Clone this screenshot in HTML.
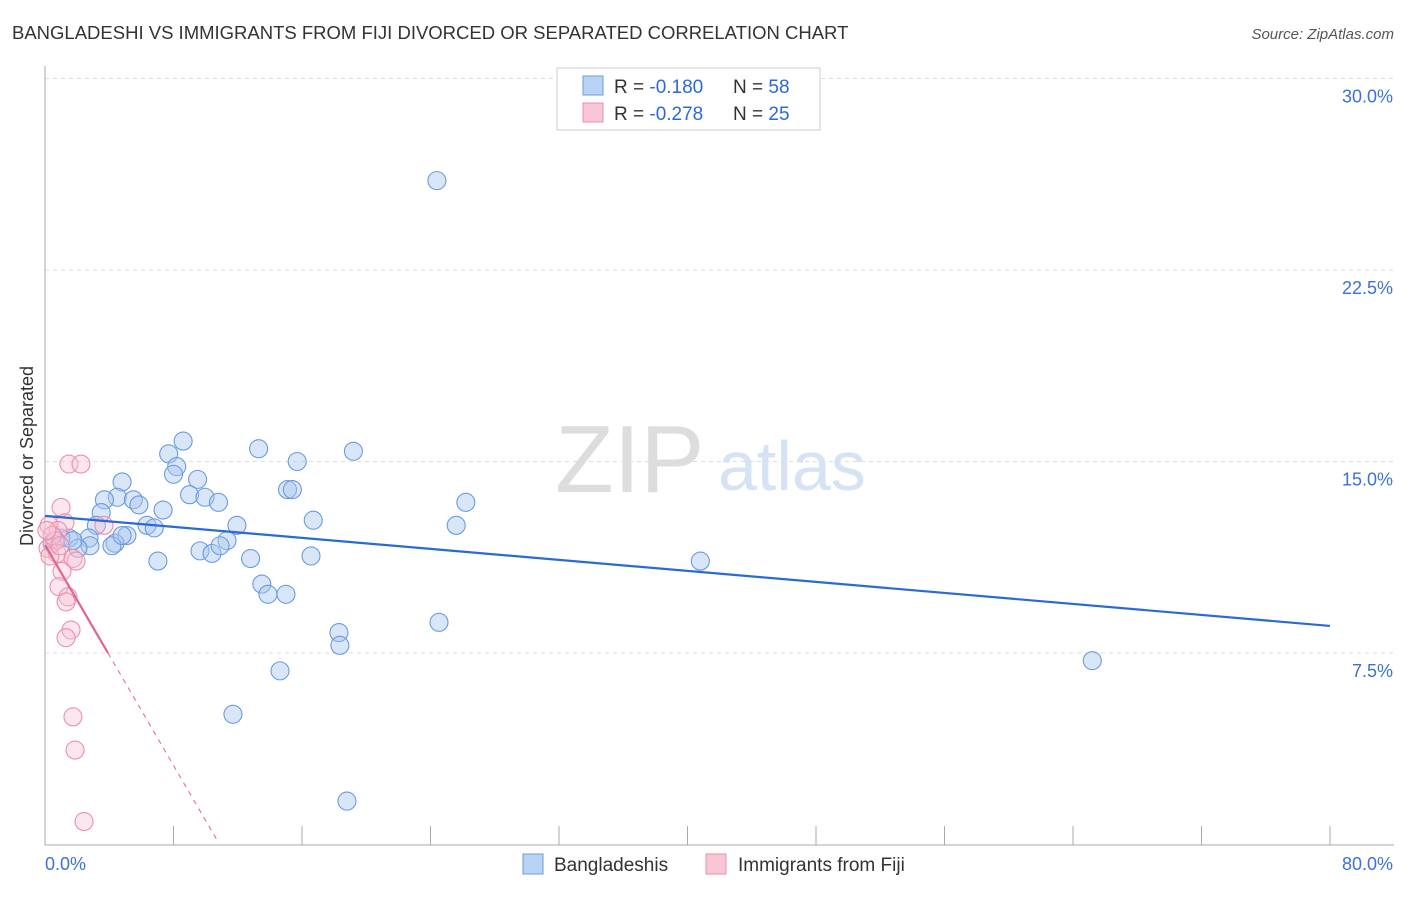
<!DOCTYPE html>
<html><head><meta charset="utf-8"><style>
body{margin:0;background:#fff;font-family:"Liberation Sans",sans-serif;}
svg text{font-family:"Liberation Sans",sans-serif;}
</style></head><body>
<svg id="c" width="1406" height="892">
<text x="12" y="39" font-size="18.5" fill="#333">BANGLADESHI VS IMMIGRANTS FROM FIJI DIVORCED OR SEPARATED CORRELATION CHART</text>
<text x="1394" y="39" font-size="15" fill="#555" text-anchor="end" font-style="italic">Source: ZipAtlas.com</text>
<text transform="translate(33,456) rotate(-90)" font-size="18" fill="#333" text-anchor="middle">Divorced or Separated</text>
<text x="555" y="492" font-size="96" fill="#ddd" font-family="Liberation Serif">ZIP</text>
<text x="718" y="490" font-size="70" fill="#d5e3f5">atlas</text>
<g id="grid"></g><g id="pts"></g><g id="lines"></g>
<g>
<rect x="557" y="68" width="263" height="62" fill="#fff" stroke="#ccc"/>
<rect x="583" y="76" width="20" height="19" fill="#b9d3f5" stroke="#6c9be0"/>
<rect x="583" y="103" width="20" height="19" fill="#f9c6d5" stroke="#ec8fab"/>
<text x="614" y="93" font-size="19" fill="#333">R = <tspan fill="#2a6ad8">-0.180</tspan></text>
<text x="733" y="93" font-size="19" fill="#333">N = <tspan fill="#2a6ad8">58</tspan></text>
<text x="614" y="120" font-size="19" fill="#333">R = <tspan fill="#2a6ad8">-0.278</tspan></text>
<text x="733" y="120" font-size="19" fill="#333">N = <tspan fill="#2a6ad8">25</tspan></text>
</g>
<g>
<rect x="523" y="854" width="20" height="20" fill="#b9d3f5" stroke="#6c9be0"/>
<text x="554" y="871" font-size="19" fill="#333">Bangladeshis</text>
<rect x="706" y="854" width="20" height="20" fill="#f9c6d5" stroke="#ec8fab"/>
<text x="738" y="871" font-size="19" fill="#333">Immigrants from Fiji</text>
</g>
</svg>
<script>
const yTicks=[7.5,15,22.5,30];
const yTickLabels=["7.5%","15.0%","22.5%","30.0%"];
const xTicks=[0,8,16,24,32,40,48,56,64,72,80];
const blueX=[24.4,8.6,13.3,19.2,7.7,15.7,8.2,8.0,9.5,4.8,15.1,15.4,9.0,4.5,9.96,3.7,5.5,10.8,26.2,5.85,3.5,7.35,16.7,3.2,6.35,6.8,11.95,25.6,5.1,2.74,1.49,0.99,11.33,0.44,4.36,2.8,4.17,2.05,9.65,10.4,10.9,16.56,12.8,7.03,40.8,13.5,13.88,15.0,18.3,24.53,18.36,65.2,14.63,11.7,18.8,0.68,1.74,4.8];
const blueY=[26.0,15.8,15.5,15.4,15.3,15.0,14.8,14.5,14.3,14.2,13.9,13.9,13.7,13.6,13.6,13.5,13.5,13.4,13.4,13.3,13.0,13.1,12.7,12.5,12.5,12.4,12.5,12.5,12.1,12.0,12.0,12.0,11.9,11.8,11.8,11.7,11.7,11.6,11.5,11.4,11.7,11.3,11.2,11.1,11.1,10.2,9.8,9.8,8.3,8.7,7.8,7.2,6.8,5.1,1.7,11.9,11.9,12.1];
const pinkX=[1.49,2.24,1.0,1.24,0.25,0.81,0.62,0.19,0.75,0.31,1.74,1.93,3.67,1.06,0.87,1.43,1.62,1.31,1.74,1.87,2.43,0.44,0.12,0.93,1.31];
const pinkY=[14.9,14.9,13.2,12.6,12.5,12.3,11.9,11.6,11.4,11.3,11.2,11.1,12.5,10.7,10.1,9.7,8.4,8.1,5.0,3.7,0.9,12.1,12.3,11.7,9.5];
const blueLine=[12.87,8.56];
const pinkLine=[11.73,-1.079];
const X=v=>45+v/80*1285, Y=v=>844.5-v/7.5*191.5;
const NS="http://www.w3.org/2000/svg";
function mk(t,a,p){const e=document.createElementNS(NS,t);for(const k in a)e.setAttribute(k,a[k]);p.appendChild(e);return e;}
const g=document.getElementById('grid');
yTicks.forEach((t,i)=>{
 const l=mk('line',{x1:45,y1:Y(t),x2:1394,y2:Y(t),stroke:'#ddd','stroke-dasharray':'4,4'},g);
 
 
 const tx=mk('text',{x:1393,y:Y(t)+24,'font-size':18,fill:'#3a72d8','text-anchor':'end'},g);
 tx.textContent=yTickLabels[i];
 
 
});
mk('line',{x1:45,y1:66,x2:45,y2:845,stroke:'#aaa'},g);
mk('line',{x1:45,y1:845,x2:1394,y2:845,stroke:'#aaa'},g);
xTicks.forEach(t=>{const l=mk('line',{x1:X(t),y1:826,x2:X(t),y2:845,stroke:'#aaa'},g);
 
 });
let t0=mk('text',{x:45,y:870,'font-size':18,fill:'#3a72d8'},g);t0.textContent='0.0%';


let t1=mk('text',{x:1393,y:870,'font-size':18,fill:'#3a72d8','text-anchor':'end'},g);t1.textContent='80.0%';


const p=document.getElementById('pts');
blueX.forEach((x,i)=>{const c=mk('circle',{cx:X(x),cy:Y(blueY[i]),r:9,fill:'rgba(170,200,240,0.45)',stroke:'#6a9ae0','stroke-width':1.1},p);
 
 });
pinkX.forEach((x,i)=>{const c=mk('circle',{cx:X(x),cy:Y(pinkY[i]),r:9,fill:'rgba(248,195,212,0.4)',stroke:'#ec8fab','stroke-width':1.1},p);
 
 });
const L=document.getElementById('lines');
const bl=mk('line',{x1:X(0),y1:Y(blueLine[0]),x2:X(80),y2:Y(blueLine[1]),stroke:'#2a6ad8','stroke-width':2.2},L);


const pe=3.92, pd=10.7;
const ps=mk('line',{x1:X(0),y1:Y(pinkLine[0]),x2:X(pe),y2:Y(pinkLine[0]+pinkLine[1]*pe),stroke:'#e5628a','stroke-width':2.2},L);


const pdl=mk('line',{x1:X(pe),y1:Y(pinkLine[0]+pinkLine[1]*pe),x2:X(pd),y2:Y(pinkLine[0]+pinkLine[1]*pd),stroke:'#e5628a','stroke-width':1,'stroke-dasharray':'5,5'},L);


</script>
</body></html>
